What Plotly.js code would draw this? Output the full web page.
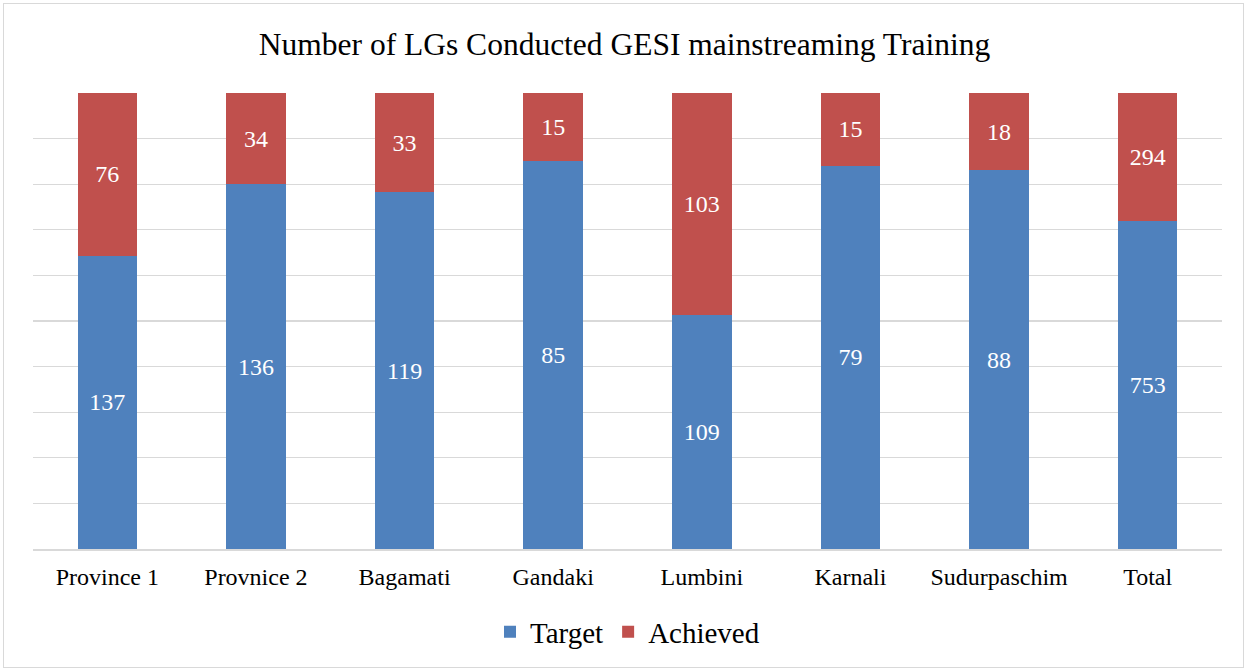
<!DOCTYPE html>
<html>
<head>
<meta charset="utf-8">
<script src="https://cdn.plot.ly/plotly-3.0.1.min.js"></script>
<style>
html,body{margin:0;padding:0;background:#fff;}
#wrap{position:relative;width:1249px;height:672px;}
#chart{width:1249px;height:672px;}
#frame{position:absolute;left:3px;top:3px;width:1241px;height:665px;border:1.5px solid #d9d9d9;pointer-events:none;box-sizing:border-box;}
</style>
</head>
<body>
<div id="wrap"><div id="chart"></div><div id="frame"></div></div>
<script>
const categories = ["Province 1","Provnice 2","Bagamati","Gandaki","Lumbini","Karnali","Sudurpaschim","Total"];
const targetValues = [137,136,119,85,109,79,88,753];
const achievedValues = [76,34,33,15,103,15,18,294];

const serif = "Liberation Serif, Times New Roman, serif";

const traces = [
  {
    type: "bar", name: "Target", x: categories, y: targetValues,
    text: targetValues.map(String), textposition: "inside", insidetextanchor: "middle",
    textangle: 0, textfont: {family: serif, size: 24, color: "#ffffff"},
    marker: {color: "#4f81bd"}, hoverinfo: "x+y"
  },
  {
    type: "bar", name: "Achieved", x: categories, y: achievedValues,
    text: achievedValues.map(String), textposition: "inside", insidetextanchor: "middle",
    textangle: 0, textfont: {family: serif, size: 24, color: "#ffffff"},
    marker: {color: "#c0504d"}, hoverinfo: "x+y"
  }
];

const layout = {
  width: 1249, height: 672,
  margin: {l: 33, r: 27, t: 93, b: 123},
  paper_bgcolor: "#ffffff", plot_bgcolor: "#ffffff",
  barmode: "stack", barnorm: "percent", bargap: 0.6,
  title: {text: "Number of LGs Conducted GESI mainstreaming Training",
          font: {family: serif, size: 31.5, color: "#000000"},
          x: 0.5, xanchor: "center", y: 0.935, yanchor: "middle"},
  xaxis: {showgrid: false, showline: true, linecolor: "#d9d9d9", linewidth: 1.5,
          ticks: "outside", ticklen: 6, tickcolor: "rgba(0,0,0,0)",
          tickfont: {family: serif, size: 24, color: "#000"}},
  yaxis: {range: [0, 100], dtick: 10, showticklabels: false, showgrid: true,
          gridcolor: "#d9d9d9", gridwidth: 1.3, zeroline: false, showline: false, ticks: ""},
  showlegend: true,
  legend: {orientation: "h", x: 0.5, xanchor: "center", y: -0.182, yanchor: "middle",
           font: {family: serif, size: 29, color: "#000"}, traceorder: "normal",
           itemwidth: 30},
  uniformtext: {mode: false}
};

Plotly.newPlot("chart", traces, layout, {displayModeBar: false, staticPlot: true});
</script>
</body>
</html>
